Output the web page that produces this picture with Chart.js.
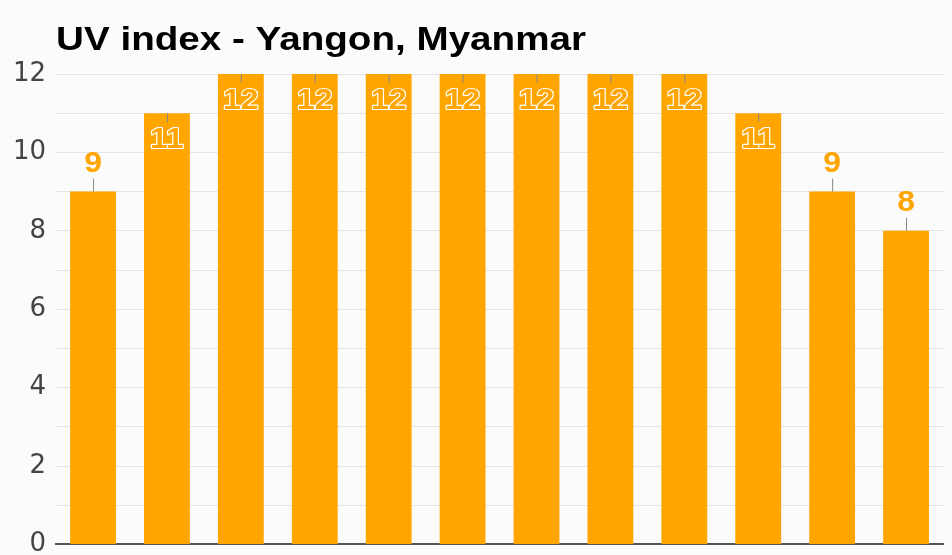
<!DOCTYPE html>
<html><head><meta charset="utf-8">
<script src="https://cdn.jsdelivr.net/npm/chart.js@4"></script>
<style>html,body{margin:0;padding:0;background:#fbfbfb;overflow:hidden;}#wrap{width:952px;height:555px;overflow:hidden;}</style>
</head><body><div id="wrap"><canvas id="c" width="952" height="570"></canvas></div>
<script>
const titleText = "UV index - Yangon, Myanmar";
const months = ["January","February","March","April","May","June","July","August","September","October","November","December"];
const uvIndex = [9, 11, 12, 12, 12, 12, 12, 12, 12, 11, 9, 8];
const yTicks = [0, 2, 4, 6, 8, 10, 12];

const FONT = "'Liberation Sans', Arial, sans-serif";
const ORANGE = "#ffa500";

function wideText(ctx, txt, x, y, sx, mode) {
  ctx.save();
  ctx.translate(x, y);
  ctx.scale(sx, 1);
  if (mode === 'stroke') ctx.strokeText(txt, 0, 0); else ctx.fillText(txt, 0, 0);
  ctx.restore();
}

const labelPlugin = {
  id: 'uvLabels',
  afterDatasetsDraw(chart) {
    const ctx = chart.ctx;
    const meta = chart.getDatasetMeta(0);
    ctx.save();
    ctx.font = "bold 29px " + FONT;
    ctx.textAlign = 'center';
    ctx.textBaseline = 'middle';
    meta.data.forEach((bar, i) => {
      const v = uvIndex[i];
      const x = bar.x, top = bar.y;
      const inside = v >= 11;
      ctx.strokeStyle = '#888';
      ctx.lineWidth = 1;
      ctx.beginPath();
      if (inside) { ctx.moveTo(x + 0.5, top); ctx.lineTo(x + 0.5, top + 9); }
      else { ctx.moveTo(x + 0.5, top); ctx.lineTo(x + 0.5, top - 13); }
      ctx.stroke();
      const ty = inside ? top + 27 : top - 28;
      if (inside) {
        ctx.lineWidth = 2.2;
        ctx.strokeStyle = '#ffffff';
        ctx.lineJoin = 'round';
        wideText(ctx, String(v), x, ty, 1.1, 'stroke');
        ctx.fillStyle = ORANGE;
        wideText(ctx, String(v), x, ty, 1.1, 'fill');
      } else {
        ctx.fillStyle = ORANGE;
        wideText(ctx, String(v), x, ty, 1.1, 'fill');
      }
    });
    ctx.font = "bold 33px " + FONT;
    ctx.textAlign = 'left';
    ctx.textBaseline = 'alphabetic';
    ctx.fillStyle = '#000';
    wideText(ctx, titleText, chart.chartArea.left, 50, 1.17, 'fill');
    ctx.restore();
  }
};

new Chart(document.getElementById('c'), {
  type: 'bar',
  data: {
    labels: months,
    datasets: [{
      data: uvIndex,
      backgroundColor: ORANGE,
      borderWidth: 0,
      barPercentage: 0.62,
      categoryPercentage: 1.0
    }]
  },
  options: {
    responsive: false,
    animation: false,
    devicePixelRatio: 1,
    layout: { padding: { top: 74, right: 9, bottom: 9, left: 3 } },
    plugins: { legend: { display: false }, title: { display: false }, tooltip: { enabled: false } },
    scales: {
      x: {
        ticks: { display: false },
        grid: { display: false, drawTicks: false },
        border: { display: true, color: '#555', width: 2 }
      },
      y: {
        min: 0, max: 12,
        ticks: {
          stepSize: 1,
          autoSkip: false,
          padding: 10,
          color: '#444',
          font: { family: "'DejaVu Sans', sans-serif", size: 26 },
          callback: (v) => yTicks.includes(v) ? String(v) : ''
        },
        grid: { color: '#e4e4e4', drawTicks: false, lineWidth: 1 },
        border: { display: false }
      }
    }
  },
  plugins: [labelPlugin]
});
</script></body></html>
